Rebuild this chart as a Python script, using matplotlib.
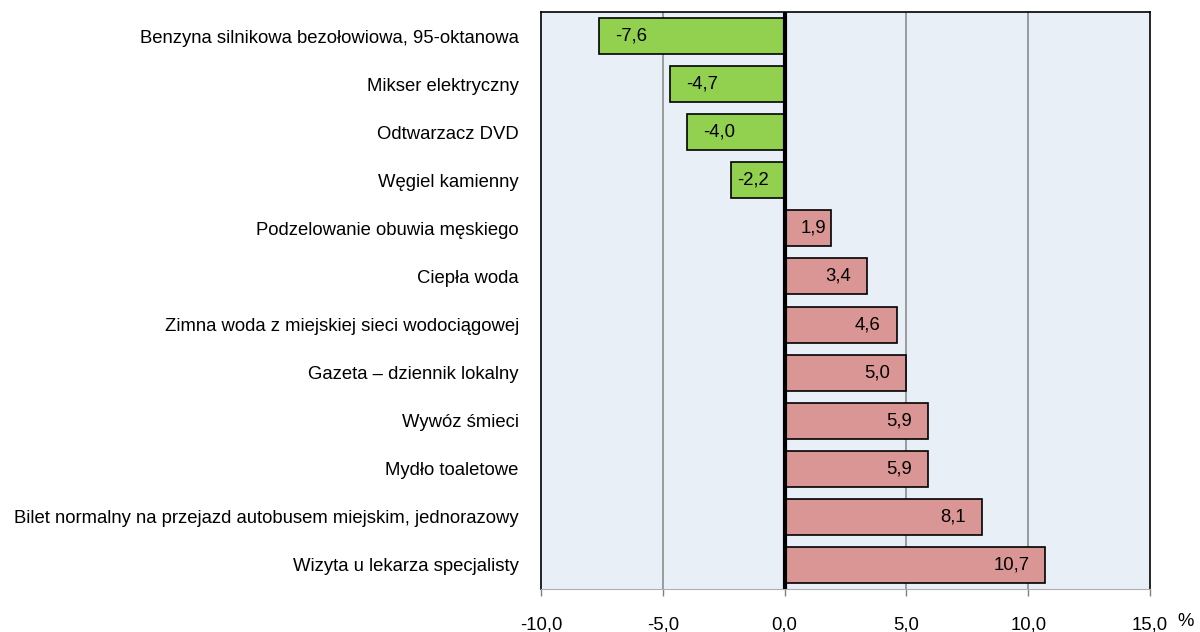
import matplotlib
matplotlib.use("Agg")
import matplotlib.pyplot as plt
from matplotlib.ticker import FixedLocator, FuncFormatter

plt.rcParams['font.family'] = ['Liberation Sans', 'DejaVu Sans']

categories = [
    "Benzyna silnikowa bezołowiowa, 95-oktanowa",
    "Mikser elektryczny",
    "Odtwarzacz DVD",
    "Węgiel kamienny",
    "Podzelowanie obuwia męskiego",
    "Ciepła woda",
    "Zimna woda z miejskiej sieci wodociągowej",
    "Gazeta – dziennik lokalny",
    "Wywóz śmieci",
    "Mydło toaletowe",
    "Bilet normalny na przejazd autobusem miejskim, jednorazowy",
    "Wizyta u lekarza specjalisty",
]
values = [-7.6, -4.7, -4.0, -2.2, 1.9, 3.4, 4.6, 5.0, 5.9, 5.9, 8.1, 10.7]
xticks = [-10, -5, 0, 5, 10, 15]

GREEN = "#92D050"
PINK = "#DA9694"
BG = "#E9EFF7"
FS = 13.3

fig = plt.figure(figsize=(12, 6.32), dpi=100)
ax = fig.add_axes([541/1200, 1-589/632, (1150-541)/1200, (589-12)/632])
ax.set_facecolor(BG)

ypos = list(range(len(categories)))
colors = [GREEN if v < 0 else PINK for v in values]
ax.barh(ypos, values, height=0.75, color=colors, edgecolor="black", linewidth=1.2, zorder=3)

ax.set_xlim(-10, 15)
ax.set_ylim(len(categories) - 0.5, -0.5)
ax.xaxis.set_major_locator(FixedLocator(xticks))
ax.xaxis.set_major_formatter(FuncFormatter(lambda x, p: f"{x:.1f}".replace(".", ",")))
ax.set_yticks(ypos)
ax.set_yticklabels(categories, fontsize=FS)
ax.tick_params(axis='y', length=0, pad=16)
ax.tick_params(axis='x', length=5, width=1, color="#808080", pad=15, labelsize=FS)

for x in xticks[1:-1]:
    if x != 0:
        ax.axvline(x, color="#8C8C8C", linewidth=1.2, zorder=1)
ax.axvline(0, color="black", linewidth=3, zorder=4)

for s in ["left", "right", "top"]:
    ax.spines[s].set_color("black")
    ax.spines[s].set_linewidth(1.2)
ax.spines["bottom"].set_color("#B0B0B0")
ax.spines["bottom"].set_linewidth(0.8)

fig.text(1186/1200, 1-621/632, "%", ha="center", va="center", fontsize=FS)

# value labels inside bar ends
fig.canvas.draw()
renderer = fig.canvas.get_renderer()
px_per_unit = (1150 - 541) / 25.0
pad = 16 / px_per_unit
for y, v in zip(ypos, values):
    lbl = f"{v:.1f}".replace(".", ",")
    t = ax.text(0, y, lbl, fontsize=FS, va="center", zorder=5)
    w = t.get_window_extent(renderer).width / px_per_unit
    if v > 0:
        right = v - pad
        if right - w < pad:
            t.set_x(pad); t.set_ha("left")
        else:
            t.set_x(right); t.set_ha("right")
    else:
        left = v + pad
        if left + w > -pad:
            t.set_x(-pad); t.set_ha("right")
        else:
            t.set_x(left); t.set_ha("left")

fig.savefig("out.png", dpi=100)
